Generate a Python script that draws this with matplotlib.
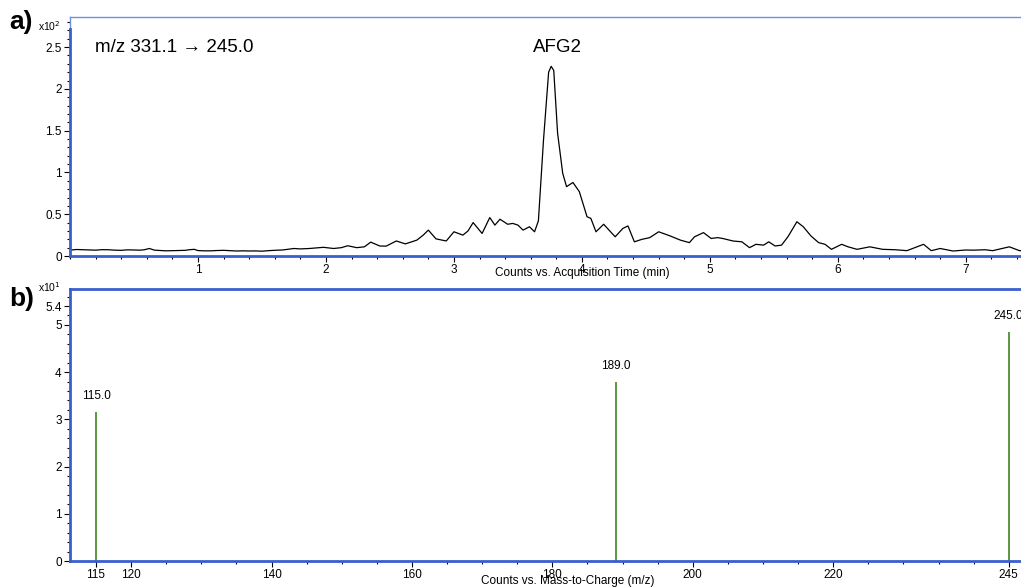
import matplotlib.pyplot as plt
from matplotlib.ticker import MultipleLocator, FixedLocator

plt.rcParams['font.family'] = ['Liberation Sans', 'DejaVu Sans']

# a) chromatogram, m/z 331.1 -> 245.0 (counts x10^2)
rt = [0.00, 0.05, 0.10, 0.15, 0.20, 0.25, 0.30, 0.35, 0.40, 0.45, 0.50, 0.55, 0.58, 0.62, 0.66,
      0.75, 0.80, 0.85, 0.90, 0.93, 0.97, 1.00, 1.05, 1.10, 1.15, 1.20, 1.25, 1.30, 1.35, 1.40,
      1.45, 1.50, 1.56, 1.62, 1.66, 1.70, 1.75, 1.80, 1.87,
      1.98, 2.06, 2.12, 2.17, 2.24, 2.30, 2.35, 2.42, 2.47, 2.55, 2.62, 2.71, 2.76, 2.80, 2.86,
      2.94, 3.00, 3.07, 3.11, 3.15, 3.22, 3.28, 3.32, 3.36, 3.42, 3.46, 3.50, 3.54, 3.59,
      3.63, 3.66, 3.70, 3.74, 3.76, 3.78, 3.81, 3.85, 3.88, 3.93, 3.98, 4.04,
      4.07, 4.11, 4.17, 4.26, 4.32, 4.36, 4.41, 4.47, 4.53, 4.60, 4.69, 4.77, 4.84,
      4.88, 4.95, 5.01, 5.06, 5.10, 5.18, 5.25, 5.31, 5.36, 5.42, 5.46, 5.51, 5.56,
      5.61, 5.68, 5.73, 5.79, 5.85, 5.90, 5.95, 6.03, 6.08, 6.15, 6.25, 6.35,
      6.45, 6.54, 6.67, 6.73, 6.80, 6.90, 7.00, 7.06, 7.15, 7.21, 7.34, 7.42, 7.50]
counts = [0.070, 0.078, 0.075, 0.072, 0.070, 0.076, 0.075, 0.070, 0.068, 0.074, 0.072, 0.070, 0.075, 0.090, 0.070,
          0.062, 0.064, 0.065, 0.068, 0.075, 0.080, 0.065, 0.062, 0.062, 0.066, 0.068, 0.064, 0.060, 0.062, 0.060,
          0.061, 0.058, 0.065, 0.070, 0.072, 0.080, 0.090, 0.085, 0.090,
          0.104, 0.090, 0.100, 0.123, 0.100, 0.110, 0.166, 0.120, 0.118, 0.180, 0.145, 0.190, 0.250, 0.310, 0.205,
          0.180, 0.290, 0.250, 0.300, 0.400, 0.270, 0.460, 0.370, 0.440, 0.380, 0.390, 0.370, 0.310, 0.350,
          0.290, 0.420, 1.390, 2.200, 2.270, 2.220, 1.470, 0.990, 0.830, 0.880, 0.770, 0.470,
          0.450, 0.290, 0.380, 0.230, 0.330, 0.360, 0.170, 0.200, 0.220, 0.290, 0.240, 0.190, 0.160,
          0.230, 0.280, 0.210, 0.220, 0.210, 0.180, 0.170, 0.100, 0.140, 0.130, 0.170, 0.120, 0.130,
          0.230, 0.410, 0.350, 0.240, 0.160, 0.140, 0.080, 0.140, 0.110, 0.080, 0.110, 0.080,
          0.075, 0.064, 0.140, 0.064, 0.090, 0.060, 0.072, 0.070, 0.075, 0.064, 0.110, 0.064, 0.070]

# b) product ion spectrum (counts x10^1)
mz = [115.0, 189.0, 245.0]
abund = [3.16, 3.80, 4.86]
mz_ticks = [115, 120, 140, 160, 180, 200, 220, 245]
abund_ticks = [0, 1, 2, 3, 4, 5, 5.4]

blue = '#3a5fcd'
green = '#4f8f2f'

fig = plt.figure(figsize=(10.21, 5.88), dpi=100)
ax1 = fig.add_axes([0.0686, 0.5646, 0.94, 0.4065])
ax2 = fig.add_axes([0.0686, 0.0459, 0.94, 0.4626])

for ax in (ax1, ax2):
    for s in ('left', 'bottom', 'top'):
        ax.spines[s].set_color(blue)
        ax.spines[s].set_linewidth(2.0)
    ax.spines['right'].set_visible(False)
    ax.tick_params(axis='both', which='major', direction='out', length=4, width=0.8,
                   labelsize=8.5, pad=2, color='black')
    ax.tick_params(axis='both', which='minor', direction='out', length=2.5, width=0.8,
                   color='black')

# --- panel a
ax1.plot(rt, counts, color='black', lw=0.9)
ax1.set_xlim(0, 7.5)
ax1.set_ylim(0, 2.86)
ax1.xaxis.set_major_locator(FixedLocator([1, 2, 3, 4, 5, 6, 7]))
ax1.xaxis.set_minor_locator(MultipleLocator(0.2))
ax1.yaxis.set_major_locator(FixedLocator([0, 0.5, 1, 1.5, 2, 2.5]))
ax1.set_yticklabels(['0', '0.5', '1', '1.5', '2', '2.5'])
ax1.yaxis.set_minor_locator(MultipleLocator(0.1))
ax1.spines['top'].set_linewidth(1.0)
ax1.spines['top'].set_color('#6f8fdf')
ax1.spines['left'].set_bounds(0, 2.72)
ax1.plot([0, 0], [2.72, 2.86], color='#6f8fdf', lw=1.0, clip_on=False)
ax1.text(0.195, 2.5, 'm/z 331.1 \u2192 245.0', fontsize=13.5, ha='left', va='center')
ax1.text(3.81, 2.5, 'AFG2', fontsize=13.5, ha='center', va='center')
ax1.text(4.0, -0.205, 'Counts vs. Acquisition Time (min)', fontsize=8.5,
         ha='center', va='center')
fig.text(0.037, 0.955, 'x10$^2$', fontsize=7.5, ha='left', va='center')
fig.text(0.009, 0.962, 'a)', fontsize=19, fontweight='bold', ha='left', va='center')

# --- panel b
ax2.vlines(mz, 0, abund, color=green, lw=1.3)
for m, a in zip(mz, abund):
    ax2.annotate(f'{m:.1f}', (m, a), xytext=(0, 7), textcoords='offset points',
                 ha='center', va='bottom', fontsize=8.5)
ax2.set_xlim(111.3, 248.0)
ax2.set_ylim(0, 5.76)
ax2.xaxis.set_major_locator(FixedLocator(mz_ticks))
ax2.xaxis.set_minor_locator(MultipleLocator(5))
ax2.yaxis.set_major_locator(FixedLocator(abund_ticks))
ax2.set_yticklabels(['0', '1', '2', '3', '4', '5', '5.4'])
ax2.yaxis.set_minor_locator(MultipleLocator(0.2))
ax2.text(182.2, -0.42, 'Counts vs. Mass-to-Charge (m/z)', fontsize=8.5,
         ha='center', va='center')
fig.text(0.037, 0.512, 'x10$^1$', fontsize=7.5, ha='left', va='center')
fig.text(0.009, 0.492, 'b)', fontsize=19, fontweight='bold', ha='left', va='center')

fig.savefig('out.png', dpi=100)
